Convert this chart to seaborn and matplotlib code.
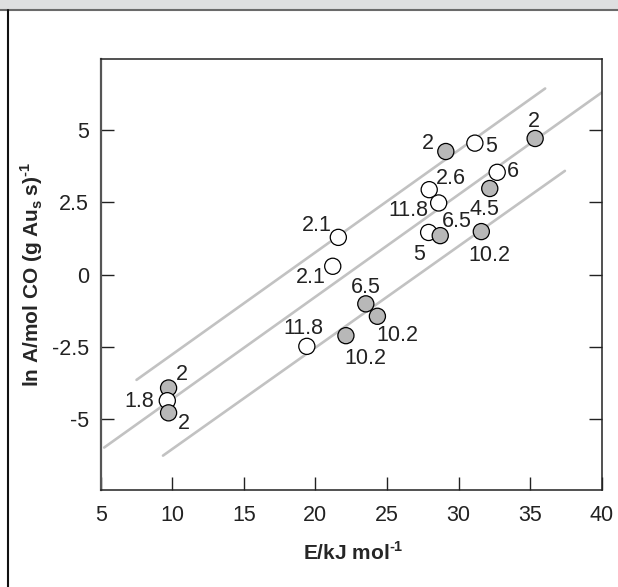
import numpy as np
import pandas as pd
import seaborn as sns
import matplotlib.pyplot as plt
from matplotlib.patches import Rectangle
from matplotlib.lines import Line2D

# datos
energia = [21.60, 21.21, 23.52, 24.33, 22.13, 19.40, 29.11, 31.14, 35.35, 32.70,
           32.18, 27.95, 28.61, 27.91, 28.72, 31.59, 9.74, 9.65, 9.74]
ln_a = [1.29, 0.29, -1.01, -1.44, -2.11, -2.48, 4.26, 4.55, 4.71, 3.54,
        2.98, 2.94, 2.48, 1.46, 1.35, 1.49, -3.92, -4.36, -4.78]
tipo = ["open", "open", "filled", "filled", "filled", "open", "filled", "open", "filled", "open",
        "filled", "open", "open", "open", "filled", "filled", "filled", "open", "filled"]
etiquetas = ["2.1", "2.1", "6.5", "10.2", "10.2", "11.8", "2", "5", "2", "6",
             "4.5", "2.6", "11.8", "5", "6.5", "10.2", "2", "1.8", "2"]

# rectas paralelas (extremos)
recta_id = ["sup", "sup", "med", "med", "inf", "inf"]
recta_x = [7.50, 36.05, 5.24, 40.0, 9.35, 37.43]
recta_y = [-3.64, 6.44, -5.98, 6.30, -6.26, 3.59]

x_ticks = [5, 10, 15, 20, 25, 30, 35, 40]
y_ticks = [-5, -2.5, 0, 2.5, 5]
y_ticklabels = ["-5", "-2.5", "0", "2.5", "5"]

# desplazamiento de cada etiqueta en pixeles (x, y hacia arriba)
offsets = [(-21.7, 13.4), (-21.7, -9.3), (0, 18.3), (20, -17.3), (19, -21), (-3.3, 19),
           (-18.3, 10), (16.7, -2), (-1.7, 18.4), (15.6, 2.4), (-5.3, -19.6), (21.7, 13),
           (-30, -6), (-10, -20.6), (16.7, 16), (7.6, -22.3), (13.3, 14.6), (-27.6, 1),
           (15.3, -9.4)]

df = pd.DataFrame({"E": energia, "lnA": ln_a, "tipo": tipo, "lab": etiquetas})
df_rectas = pd.DataFrame({"linea": recta_id, "x": recta_x, "y": recta_y})

sns.set_theme(style="ticks")
plt.rcParams["font.family"] = ["Liberation Sans", "DejaVu Sans"]
plt.rcParams["mathtext.fontset"] = "custom"
plt.rcParams["mathtext.rm"] = "Liberation Sans"
plt.rcParams["mathtext.bf"] = "Liberation Sans:bold"

fig = plt.figure(figsize=(6.18, 5.87), dpi=100)
fig.patch.set_facecolor("white")
ax = fig.add_axes([0.163, 0.1652, 0.8106, 0.7338])

# marco de la ventana
W, H = 618, 587
fig.patches.append(Rectangle((0, 1 - 9.5 / H), 1, 9.5 / H, transform=fig.transFigure,
                             facecolor="#dedfe0", edgecolor="none", zorder=0))
fig.lines.append(Line2D([0, 1], [1 - 10 / H, 1 - 10 / H], transform=fig.transFigure,
                        color="#6a6a6a", lw=1.5))
fig.lines.append(Line2D([8 / W, 8 / W], [0, 1 - 10 / H], transform=fig.transFigure,
                        color="#111111", lw=1.5))

sns.lineplot(data=df_rectas, x="x", y="y", units="linea", estimator=None,
             color="#c2c2c2", lw=1.9, ax=ax, zorder=1)
sns.scatterplot(data=df, x="E", y="lnA", hue="tipo",
                palette={"open": "white", "filled": "#b8b8b8"},
                edgecolor="black", linewidth=0.9, s=135, legend=False, ax=ax, zorder=3)

for (_, r), (dx, dy) in zip(df.iterrows(), offsets):
    ax.annotate(r["lab"], (r["E"], r["lnA"]), xytext=(dx, dy - 1.5),
                textcoords="offset pixels", ha="center", va="center",
                fontsize=15.5, color="#222222")

ax.set_xlim(5.24, 40)
ax.set_ylim(-7.45, 7.45)
ax.set_xticks(x_ticks)
ax.set_yticks(y_ticks)
ax.set_yticklabels(y_ticklabels)
ax.tick_params(axis="both", direction="in", length=9.5, width=1.0, labelsize=15.5,
               colors="#222222")
ax.tick_params(axis="x", pad=10.5)
ax.tick_params(axis="y", right=True, left=True, pad=8.5)
for sp in ax.spines.values():
    sp.set_color("#222222")
    sp.set_linewidth(1.1)
ax.spines["left"].set_color("#555555")
ax.spines["left"].set_linewidth(1.6)

ax.set_xlabel("E/kJ mol$^{\\mathbf{\u20101}}$", fontsize=15, fontweight="bold", va="center")
ax.set_ylabel("ln A/mol CO (g Au$_{\\mathbf{s}}$\u2009s)$^{\\mathbf{\u20101}}$", fontsize=15,
              fontweight="bold", va="center")
ax.xaxis.set_label_coords(0.5036, -0.144)
ax.yaxis.set_label_coords(-0.1377, 0.5)

fig.savefig("out.png", dpi=100)
